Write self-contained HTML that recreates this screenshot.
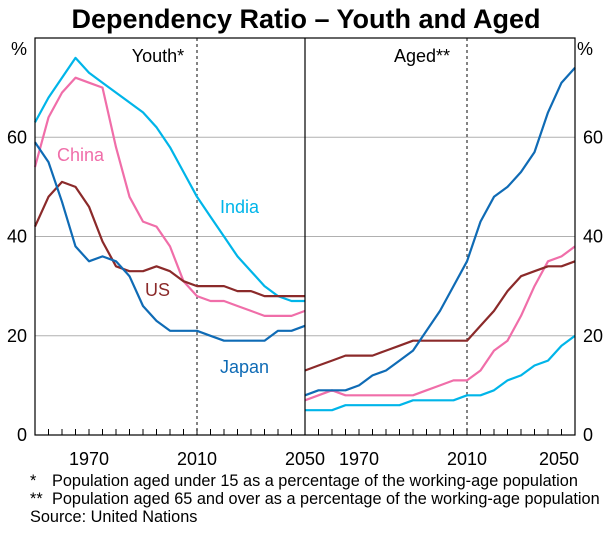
<!DOCTYPE html>
<html><head><meta charset="utf-8"><style>
body{margin:0;background:#fff}
svg text{font-family:"Liberation Sans",Arial,sans-serif}
</style></head><body>
<svg width="612" height="528" xmlns="http://www.w3.org/2000/svg" id="chart">
<text x="306" y="28" text-anchor="middle" font-size="27" font-weight="bold">Dependency Ratio – Youth and Aged</text>
<g id="grid"></g>
<g id="lines"></g>
<g id="axes"></g>
<text x="35" y="55" font-size="18" text-anchor="end" dx="-8">%</text>
<text x="577" y="55" font-size="18">%</text>
<text x="158" y="62" font-size="18" text-anchor="middle">Youth*</text>
<text x="422" y="62" font-size="18" text-anchor="middle">Aged**</text>
<text x="57" y="161" font-size="18" fill="#f06ea9">China</text>
<text x="220" y="213" font-size="18" fill="#00b5e9">India</text>
<text x="145" y="296" font-size="18" fill="#8b2a2a">US</text>
<text x="220" y="373" font-size="18" fill="#0f6bb5">Japan</text>
<g font-size="16.3">
<text x="30" y="486">*</text><text x="52" y="486">Population aged under 15 as a percentage of the working-age population</text>
<text x="30" y="504">**</text><text x="52" y="504">Population aged 65 and over as a percentage of the working-age population</text>
<text x="30" y="522">Source: United Nations</text>
</g>
</svg>
<script>
const years=[1950,1955,1960,1965,1970,1975,1980,1985,1990,1995,2000,2005,2010,2015,2020,2025,2030,2035,2040,2045,2050];
const youthIndia=[63,68,72,76,73,71,69,67,65,62,58,53,48,44,40,36,33,30,28,27,27];
const youthChina=[54,64,69,72,71,70,58,48,43,42,38,31,28,27,27,26,25,24,24,24,25];
const youthUS=[42,48,51,50,46,39,34,33,33,34,33,31,30,30,30,29,29,28,28,28,28];
const youthJapan=[59,55,47,38,35,36,35,32,26,23,21,21,21,20,19,19,19,19,21,21,22];
const agedJapan=[8,9,9,9,10,12,13,15,17,21,25,30,35,43,48,50,53,57,65,71,74];
const agedUS=[13,14,15,16,16,16,17,18,19,19,19,19,19,22,25,29,32,33,34,34,35];
const agedChina=[7,8,9,8,8,8,8,8,8,9,10,11,11,13,17,19,24,30,35,36,38];
const agedIndia=[5,5,5,6,6,6,6,6,7,7,7,7,8,8,9,11,12,14,15,18,20];
const yTicks=[0,20,40,60];
const xTickLabels=[1970,2010,2050];
const NS='http://www.w3.org/2000/svg';
const L0=35,MID=305,R0=575,TOP=38,BOT=435;
const yS=v=>BOT-v*(BOT-TOP)/80;
const xS=(yr,p)=>(p?MID:L0)+(yr-1950)*(MID-L0)/100;
function mk(tag,attrs,parent){const e=document.createElementNS(NS,tag);for(const k in attrs)e.setAttribute(k,attrs[k]);document.getElementById(parent).appendChild(e);return e;}
yTicks.forEach(v=>{
 if(v>0){const g=mk('line',{x1:L0,x2:R0,y1:yS(v),y2:yS(v),stroke:'#b0b0b0','stroke-width':1},'grid');
 
 }
 const t1=mk('text',{x:L0-8,y:yS(v)+6,'text-anchor':'end','font-size':18},'axes');t1.textContent=v;
 
 
 const t2=mk('text',{x:R0+8,y:yS(v)+6,'font-size':18},'axes');t2.textContent=v;
 
 
});
[0,1].forEach(p=>{
 const d=mk('line',{x1:xS(2010,p),x2:xS(2010,p),y1:TOP,y2:BOT,stroke:'#333','stroke-width':1.2,'stroke-dasharray':'3,3'},'grid');
 
 
 for(let yr=1955;yr<2050;yr+=5){mk('line',{x1:xS(yr,p),x2:xS(yr,p),y1:BOT-6,y2:BOT,stroke:'#000','stroke-width':1},'axes');}
 xTickLabels.forEach(yr=>{
  if(p===0&&yr===2050)return;
  const t=mk('text',{x:xS(yr,p),y:BOT+30,'text-anchor':(p===1&&yr===2050)?'end':'middle','font-size':18},'axes');
  t.textContent=yr;
  
  
  if(p===1&&yr===2050)t.setAttribute('x',R0+4);
 });
});
const t50=mk('text',{x:MID,y:BOT+30,'text-anchor':'middle','font-size':18},'axes');t50.textContent='2050';


const fr=mk('rect',{x:L0,y:TOP,width:R0-L0,height:BOT-TOP,fill:'none',stroke:'#000','stroke-width':1.2},'axes');


const md=mk('line',{x1:MID,x2:MID,y1:TOP,y2:BOT,stroke:'#000','stroke-width':1.2},'axes');


const series=[
 [youthIndia,0,'#00b5e9','youth-india-line'],[youthChina,0,'#f06ea9','youth-china-line'],[youthUS,0,'#8b2a2a','youth-us-line'],[youthJapan,0,'#0f6bb5','youth-japan-line'],
 [agedIndia,1,'#00b5e9','aged-india-line'],[agedChina,1,'#f06ea9','aged-china-line'],[agedUS,1,'#8b2a2a','aged-us-line'],[agedJapan,1,'#0f6bb5','aged-japan-line']];
series.forEach(([vals,p,c,n])=>{
 const pts=vals.map((v,i)=>xS(years[i],p).toFixed(1)+','+yS(v).toFixed(1)).join(' ');
 const e=mk('polyline',{points:pts,fill:'none',stroke:c,'stroke-width':2.2,'stroke-linejoin':'round'},'lines');
 
 
});
</script>
</body></html>
